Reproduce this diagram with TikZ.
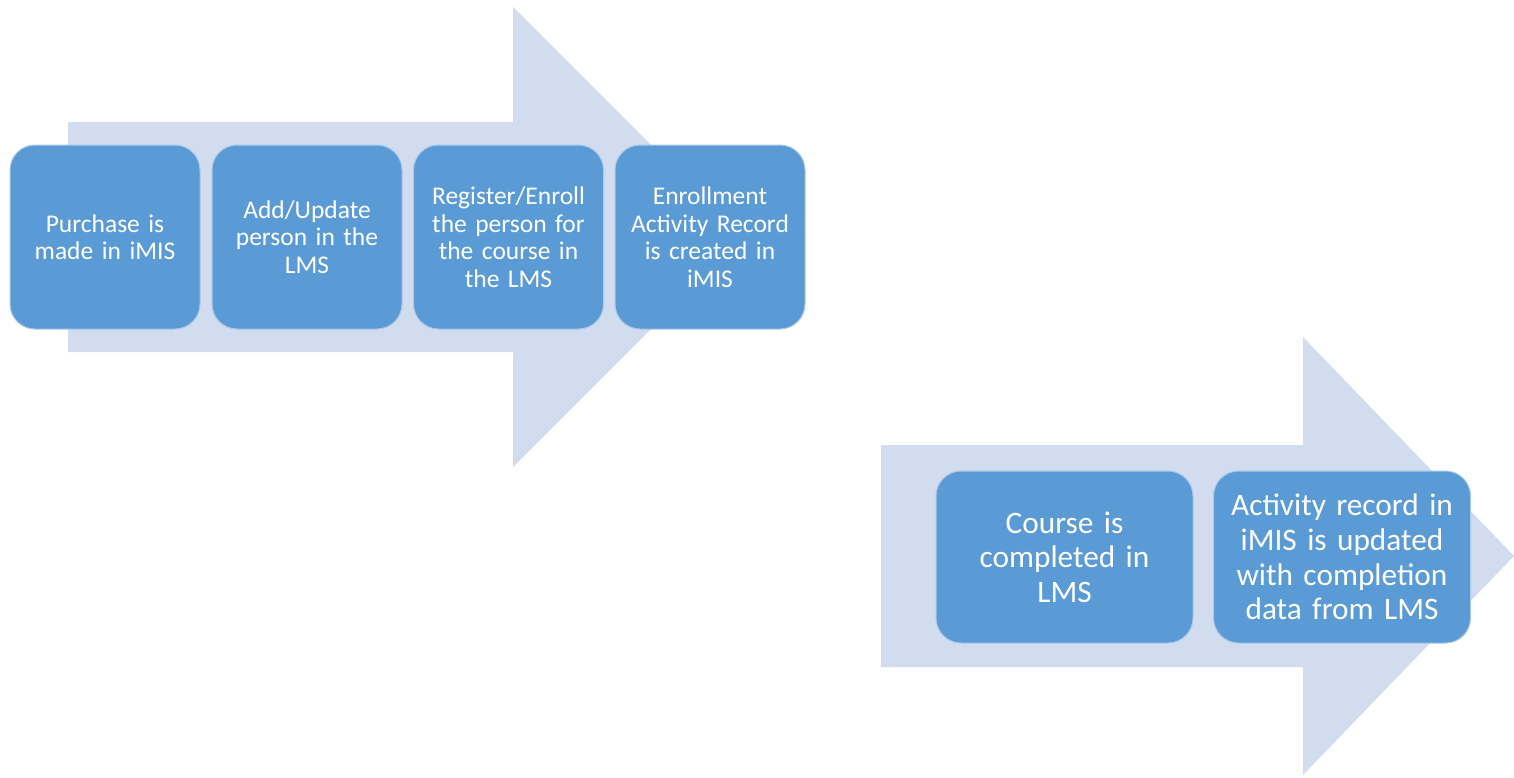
\documentclass[tikz,border=0pt]{standalone}
\usepackage{fontspec}
\setmainfont{Carlito}
\definecolor{boxblue}{HTML}{5B9BD5}
\definecolor{arrowfill}{HTML}{D1DCEE}
\definecolor{boxedge}{HTML}{A9C8EA}
\begin{document}
\begin{tikzpicture}[x=1pt,y=-1pt,
  bigarrow/.style={fill=arrowfill,draw=none},
  stepbox/.style={rectangle,rounded corners=25pt,fill=boxblue,draw=boxedge,line width=1pt,
    text=white,align=center,inner sep=0pt},
  rowone/.style={stepbox,minimum width=190pt,minimum height=184pt,text width=186pt,
    font=\fontsize{25.5}{27.5}\selectfont},
  rowtwo/.style={stepbox,minimum width=257pt,minimum height=172pt,text width=253pt,
    font=\fontsize{31.3}{34.6}\selectfont}]
\useasboundingbox (0,0) rectangle (1514,777);
% first big arrow
\fill[bigarrow] (68,122) -- (513,122) -- (513,7) -- (743,237) -- (513,467) -- (513,352) -- (68,352) -- cycle;
% second big arrow
\fill[bigarrow] (881,445) -- (1303,445) -- (1303,337) -- (1514,556) -- (1303,775) -- (1303,667) -- (881,667) -- cycle;
% row one
\node[rowone] (b1) at (105,237) {Purchase is\\made in iMIS};
\node[rowone] (b2) at (307,237) {Add/Update\\person in the\\LMS};
\node[rowone] (b3) at (508.5,237) {Register/Enroll\\the person for\\the course in\\the LMS};
\node[rowone] (b4) at (710,237) {Enrollment\\Activity Record\\is created in\\iMIS};
% row two
\node[rowtwo] (b5) at (1064.5,557) {Course is\\completed in\\LMS};
\node[rowtwo] (b6) at (1342,557) {Activity record in\\iMIS is updated\\with completion\\data from LMS};
\end{tikzpicture}
\end{document}
